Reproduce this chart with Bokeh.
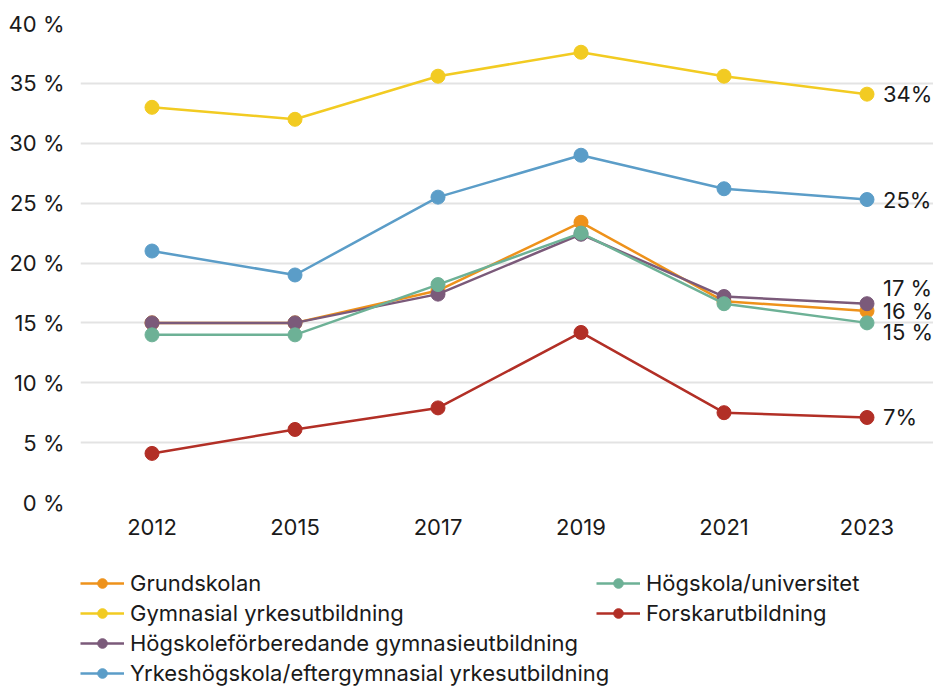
from bokeh.plotting import figure
from bokeh.models import Range1d, FixedTicker, Legend, LegendItem, ColumnDataSource
from bokeh.layouts import column
from bokeh.core.properties import value
from bokeh.embed import file_html
from bokeh.resources import INLINE

years = ["2012", "2015", "2017", "2019", "2021", "2023"]
grundskolan = [15.0, 15.0, 17.7, 23.4, 16.8, 16.0]
gymnasial_yrke = [33.0, 32.0, 35.6, 37.6, 35.6, 34.1]
hogskoleforb = [15.0, 15.0, 17.4, 22.4, 17.2, 16.6]
yrkeshogskola = [21.0, 19.0, 25.5, 29.0, 26.2, 25.3]
hogskola = [14.0, 14.0, 18.2, 22.5, 16.6, 15.0]
forskar = [4.1, 6.1, 7.9, 14.2, 7.5, 7.1]

series_names = ["Grundskolan", "Gymnasial yrkesutbildning",
                "Högskoleförberedande gymnasieutbildning",
                "Yrkeshögskola/eftergymnasial yrkesutbildning",
                "Högskola/universitet", "Forskarutbildning"]
series_values = [grundskolan, gymnasial_yrke, hogskoleforb, yrkeshogskola, hogskola, forskar]
colors = ["#EE921B", "#F2CB22", "#7B5A7A", "#5B9DC8", "#6DB196", "#B22F26"]

end_labels = ["16 %", "34%", "17 %", "25%", "15 %", "7%"]
end_label_dy = [0, 0, -16, 0, 9, 0]

y_ticks = [0, 5, 10, 15, 20, 25, 30, 35, 40]

FONT = "Inter"
TXT = "#1a1a1a"

xs = list(range(len(years)))

p = figure(width=933, height=550, output_backend="svg", toolbar_location=None,
           x_range=Range1d(-0.5, -0.5 + 853 / 143), y_range=Range1d(0, 40),
           min_border_left=80, min_border_right=0, min_border_top=23,
           min_border_bottom=48)
p.outline_line_color = None
p.xgrid.grid_line_color = None
p.ygrid.grid_line_color = "#E3E3E3"
p.ygrid.grid_line_width = 2
p.ygrid.ticker = FixedTicker(ticks=y_ticks)

p.yaxis.ticker = FixedTicker(ticks=y_ticks)
p.yaxis.major_label_overrides = {t: f"{t} %" for t in y_ticks}
p.xaxis.ticker = FixedTicker(ticks=xs)
p.xaxis.major_label_overrides = {i: y for i, y in enumerate(years)}
for ax in (p.xaxis, p.yaxis):
    ax.axis_line_color = None
    ax.major_tick_line_color = None
    ax.minor_tick_line_color = None
    ax.major_tick_out = 0
    ax.major_tick_in = 0
    ax.major_label_text_font = FONT
    ax.major_label_text_font_size = "22px"
    ax.major_label_text_color = TXT
p.yaxis.major_label_standoff = 16
p.xaxis.major_label_standoff = 16

# legend figure (frame aligned with the chart frame by the column layout)
lf = figure(width=933, height=136, output_backend="svg", toolbar_location=None,
            x_range=Range1d(0, 1), y_range=Range1d(0, 1),
            min_border_left=80, min_border_right=0, min_border_top=0,
            min_border_bottom=0, outline_line_color=None)
lf.axis.visible = False
lf.grid.visible = False

items = []
for name, vals, col, lab, dy in zip(series_names, series_values, colors, end_labels, end_label_dy):
    src = ColumnDataSource(dict(x=xs, y=vals))
    p.line("x", "y", source=src, line_color=col, line_width=2.5)
    p.scatter("x", "y", source=src, size=14, fill_color=col, line_color=col)
    p.text(x=[xs[-1]], y=[vals[-1]], text=[lab], x_offset=16, y_offset=dy,
           text_font=value(FONT), text_font_size="22px", text_color=TXT,
           text_baseline="middle", text_align="left")
    # off-range proxies so the legend can draw each series' glyph
    d1 = lf.line([-10, -9], [-10, -9], line_color=col, line_width=2.5)
    d2 = lf.scatter([-10], [-10], size=13, fill_color=col, line_color=col)
    items.append(LegendItem(label=name, renderers=[d1, d2]))

def make_legend(its, loc):
    return Legend(items=its, location=loc, orientation="vertical",
                  label_text_font=FONT, label_text_font_size="22px",
                  label_text_color=TXT, glyph_width=44, glyph_height=24,
                  label_standoff=6, spacing=4, padding=0, margin=0,
                  border_line_color=None, background_fill_alpha=0)

leg1 = make_legend(items[:4], (0, 0))
leg2 = make_legend(items[4:], (516, 60))
lf.add_layout(leg1, "center")
lf.add_layout(leg2, "center")

layout = column(p, lf, spacing=0)
open("out.html", "w").write(file_html(layout, INLINE))
